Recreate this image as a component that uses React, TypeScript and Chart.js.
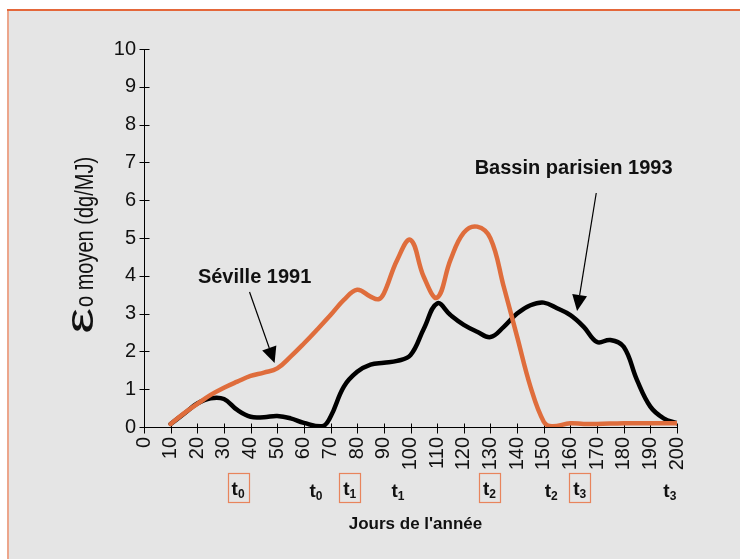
import React, { useEffect, useRef } from "react";
import { Chart, registerables } from "chart.js";

Chart.register(...registerables);

const W = 740;
const H = 559;
const FONT = '"Liberation Sans", Arial, Helvetica, sans-serif';

// Séville 1991 (orange)
const sevilleDays = [10, 15, 20, 25, 30, 35, 40, 45, 50, 55, 60, 65, 70, 75, 80, 85, 88, 90, 95, 100, 105, 110, 115, 120, 125, 130, 135, 140, 145, 150, 153, 160, 165, 170, 180, 190, 200];
const sevilleValues = [0.08, 0.36, 0.61, 0.85, 1.04, 1.2, 1.35, 1.44, 1.55, 1.86, 2.21, 2.58, 2.96, 3.36, 3.63, 3.45, 3.38, 3.53, 4.42, 4.95, 3.97, 3.42, 4.42, 5.14, 5.3, 4.99, 3.71, 2.39, 1.07, 0.14, 0.02, 0.1, 0.08, 0.08, 0.1, 0.1, 0.1];

// Bassin parisien 1993 (black)
const bassinDays = [10, 15, 20, 25, 30, 35, 40, 45, 50, 55, 60, 67, 70, 75, 80, 85, 90, 95, 100, 105, 110, 115, 120, 125, 130, 135, 140, 145, 150, 155, 160, 165, 170, 175, 180, 185, 190, 195, 200];
const bassinValues = [0.08, 0.35, 0.62, 0.76, 0.74, 0.45, 0.27, 0.26, 0.29, 0.23, 0.11, 0.02, 0.27, 1.07, 1.46, 1.65, 1.7, 1.75, 1.9, 2.6, 3.27, 2.96, 2.7, 2.52, 2.38, 2.65, 3.0, 3.22, 3.29, 3.14, 2.96, 2.65, 2.25, 2.3, 2.12, 1.24, 0.54, 0.23, 0.1];

// Axis ranges
const xMin = 0, xMax = 200, xStep = 10;
const yMin = 0, yMax = 10, yStep = 1;

// Texts
const yTitleSymbol = "ε";
const yTitleText = "o moyen (dg/MJ)";
const xTitle = "Jours de l'année";
const sevilleLabel = "Séville 1991";
const bassinLabel = "Bassin parisien 1993";

// t markers below the axis (day position, subscript, boxed = Séville)
const tMarkerDays = [35.3, 64.5, 77.2, 95.3, 129.6, 152.8, 163.5, 197.3];
const tMarkerSubs = ["0", "0", "1", "1", "2", "2", "3", "3"];
const tMarkerBoxed = [true, false, true, false, true, false, true, false];

// Annotation anchors in data coordinates: [day, value]
const sevilleText = [41.5, 3.95];
const sevilleArrowFrom = [39.6, 3.57];
const sevilleArrowTo = [49.0, 1.69];
const bassinText = [161.2, 6.85];
const bassinArrowFrom = [169.7, 6.19];
const bassinArrowTo = [162.5, 3.07];

const ORANGE = "#df6d3c";

function drawArrow(ctx: CanvasRenderingContext2D, x1: number, y1: number, x2: number, y2: number) {
  const dx = x2 - x1, dy = y2 - y1;
  const len = Math.hypot(dx, dy);
  const ux = dx / len, uy = dy / len;
  const L = 16, hw = 7.5;
  const bx = x2 - ux * L, by = y2 - uy * L;
  ctx.strokeStyle = "#000";
  ctx.lineWidth = 1.2;
  ctx.beginPath();
  ctx.moveTo(x1, y1);
  ctx.lineTo(bx, by);
  ctx.stroke();
  ctx.fillStyle = "#000";
  ctx.beginPath();
  ctx.moveTo(x2, y2);
  ctx.lineTo(bx - uy * hw, by + ux * hw);
  ctx.lineTo(bx + uy * hw, by - ux * hw);
  ctx.closePath();
  ctx.fill();
}

const decorPlugin = {
  id: "decor",
  beforeDraw(chart: any) {
    const ctx: CanvasRenderingContext2D = chart.ctx;
    ctx.save();
    ctx.fillStyle = "#ffffff";
    ctx.fillRect(0, 0, W, H);
    ctx.fillStyle = "#e5e5e5";
    ctx.fillRect(9, 11, W - 9, H - 11);
    ctx.fillStyle = "#e4673a";
    ctx.fillRect(7, 9, W - 7, 2);
    ctx.fillStyle = "#eca68c";
    ctx.fillRect(7, 11, 2, H - 11);
    ctx.restore();
  },
  beforeDatasetsDraw(chart: any) {
    const ctx: CanvasRenderingContext2D = chart.ctx;
    const xs = chart.scales.x;
    const ys = chart.scales.y;
    const x0 = Math.round(xs.getPixelForValue(xMin)) + 0.5;
    const y0 = Math.round(ys.getPixelForValue(yMin)) + 0.5;
    ctx.save();
    ctx.strokeStyle = "#000";
    ctx.lineWidth = 1;
    ctx.beginPath();
    ctx.moveTo(x0, Math.round(ys.getPixelForValue(yMax)));
    ctx.lineTo(x0, y0);
    ctx.lineTo(Math.round(xs.getPixelForValue(xMax)) + 1, y0);
    for (let v = yMin; v <= yMax; v += yStep) {
      const py = Math.round(ys.getPixelForValue(v)) + 0.5;
      ctx.moveTo(x0 - 5, py);
      ctx.lineTo(x0 + 5, py);
    }
    for (let v = xMin; v <= xMax; v += xStep) {
      const px = Math.round(xs.getPixelForValue(v)) + 0.5;
      ctx.moveTo(px, y0 - 4);
      ctx.lineTo(px, y0 + 6);
    }
    ctx.stroke();
    ctx.restore();
  },
  afterDraw(chart: any) {
    const ctx: CanvasRenderingContext2D = chart.ctx;
    const xs = chart.scales.x;
    const ys = chart.scales.y;
    const X = (v: number) => xs.getPixelForValue(v);
    const Y = (v: number) => ys.getPixelForValue(v);
    ctx.save();

    // Y axis title (rotated, vertically stretched)
    const bx = 93;
    const startY = 307;
    ctx.save();
    ctx.translate(bx, startY);
    ctx.rotate(-Math.PI / 2);
    ctx.fillStyle = "#111";
    ctx.textBaseline = "alphabetic";
    ctx.textAlign = "left";
    ctx.save();
    ctx.font = `34px ${FONT}`;
    const em = ctx.measureText(yTitleSymbol);
    const ew = em.actualBoundingBoxRight + em.actualBoundingBoxLeft;
    const eh = em.actualBoundingBoxAscent + em.actualBoundingBoxDescent;
    ctx.translate(-25, 0);
    ctx.scale(24 / ew, 21 / eh);
    ctx.fillText(yTitleSymbol, em.actualBoundingBoxLeft, -em.actualBoundingBoxDescent);
    ctx.restore();
    ctx.save();
    ctx.scale(1, 1.3);
    ctx.font = `20px ${FONT}`;
    ctx.fillText(yTitleText, 0, 0);
    ctx.restore();
    ctx.restore();

    // X axis title
    ctx.fillStyle = "#111";
    ctx.font = `bold 17px ${FONT}`;
    ctx.textAlign = "center";
    ctx.textBaseline = "alphabetic";
    ctx.fillText(xTitle, 415.5, 529);

    // t markers
    for (let i = 0; i < tMarkerDays.length; i++) {
      const cx = X(tMarkerDays[i]);
      const boxed = tMarkerBoxed[i];
      const base = boxed ? 495 : 497;
      ctx.font = `bold 19px ${FONT}`;
      const wt = ctx.measureText("t").width;
      ctx.font = `bold 12px ${FONT}`;
      const ws = ctx.measureText(tMarkerSubs[i]).width;
      const left = cx - (wt + ws) / 2;
      ctx.textAlign = "left";
      ctx.fillStyle = "#111";
      ctx.font = `bold 19px ${FONT}`;
      ctx.fillText("t", left, base);
      ctx.font = `bold 12px ${FONT}`;
      ctx.fillText(tMarkerSubs[i], left + wt, base + 3);
      if (boxed) {
        ctx.strokeStyle = "#e8845c";
        ctx.lineWidth = 1.2;
        ctx.strokeRect(Math.round(cx - 10.5) + 0.5, 473.5, 21, 29);
      }
    }

    // Annotations
    ctx.fillStyle = "#111";
    ctx.font = `bold 20px ${FONT}`;
    ctx.textAlign = "center";
    ctx.textBaseline = "middle";
    ctx.fillText(sevilleLabel, X(sevilleText[0]), Y(sevilleText[1]));
    ctx.fillText(bassinLabel, X(bassinText[0]), Y(bassinText[1]));
    drawArrow(ctx, X(sevilleArrowFrom[0]), Y(sevilleArrowFrom[1]), X(sevilleArrowTo[0]), Y(sevilleArrowTo[1]));
    drawArrow(ctx, X(bassinArrowFrom[0]), Y(bassinArrowFrom[1]), X(bassinArrowTo[0]), Y(bassinArrowTo[1]));

    ctx.restore();
  },
};

export default function App() {
  const ref = useRef<HTMLCanvasElement>(null);
  useEffect(() => {
    if (!ref.current) return;
    const chart = new Chart(ref.current, {
      type: "line",
      data: {
        datasets: [
          {
            label: sevilleLabel,
            data: sevilleDays.map((d, i) => ({ x: d, y: sevilleValues[i] })),
            borderColor: ORANGE,
            borderWidth: 4.5,
            pointRadius: 0,
            fill: false,
            tension: 0.4,
            borderCapStyle: "round",
            borderJoinStyle: "round",
          },
          {
            label: bassinLabel,
            data: bassinDays.map((d, i) => ({ x: d, y: bassinValues[i] })),
            borderColor: "#000000",
            borderWidth: 4.5,
            pointRadius: 0,
            fill: false,
            tension: 0.4,
            borderCapStyle: "round",
            borderJoinStyle: "round",
          },
        ],
      },
      options: {
        responsive: false,
        animation: false,
        devicePixelRatio: 1,
        layout: { padding: { left: 0, right: 63, top: 49, bottom: 0 } },
        plugins: {
          legend: { display: false },
          tooltip: { enabled: false },
        },
        scales: {
          x: {
            type: "linear",
            min: xMin,
            max: xMax,
            ticks: {
              stepSize: xStep,
              autoSkip: false,
              maxRotation: 90,
              minRotation: 90,
              padding: 10,
              color: "#111",
              font: { size: 20, family: FONT },
            },
            grid: { display: false, drawTicks: false },
            border: { display: false },
            afterFit: (s: any) => {
              s.height = 132;
            },
          },
          y: {
            min: yMin,
            max: yMax,
            ticks: {
              stepSize: yStep,
              padding: 8,
              color: "#111",
              font: { size: 20, family: FONT },
            },
            grid: { display: false, drawTicks: false },
            border: { display: false },
            afterFit: (s: any) => {
              s.width = 144;
            },
          },
        },
      } as any,
      plugins: [decorPlugin],
    });
    return () => chart.destroy();
  }, []);
  return (
    <div style={{ position: "fixed", left: 0, top: 0, width: W, height: H }}>
      <canvas ref={ref} width={W} height={H} style={{ width: W, height: H, display: "block" }} />
    </div>
  );
}
